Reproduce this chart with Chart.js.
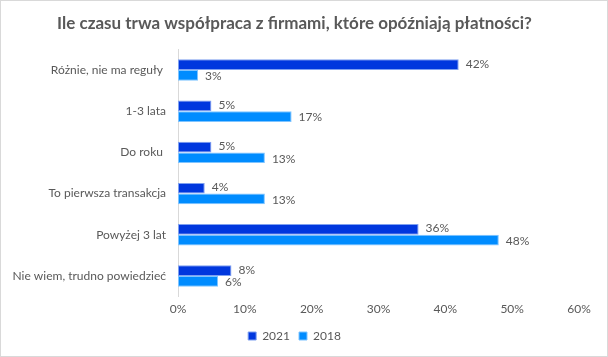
<!DOCTYPE html>
<html>
<head>
<meta charset="utf-8">
<script src="https://cdn.jsdelivr.net/npm/chart.js@4/dist/chart.umd.min.js"></script>
<style>
html,body{margin:0;padding:0;background:#fff;}
canvas{display:block;}
</style>
</head>
<body>
<canvas id="c" width="608" height="357"></canvas>
<script>
const titleText = "Ile czasu trwa współpraca z firmami, które opóźniają płatności?";
const categories = ["Różnie, nie ma reguły ", "1-3 lata", "Do roku ", "To pierwsza transakcja", "Powyżej 3 lat", "Nie wiem, trudno powiedzieć"];
const seriesNames = ["2021", "2018"];
const values2021 = [42, 5, 5, 4, 36, 8];
const values2018 = [3, 17, 13, 13, 48, 6];
const xTicks = [0, 10, 20, 30, 40, 50, 60];

const FONT = "Lato, 'Open Sans', sans-serif";
const GREY = "#595959";

const frame = {
  id: 'frame',
  beforeDraw(chart) {
    const ctx = chart.ctx;
    ctx.save();
    ctx.fillStyle = '#fff';
    ctx.fillRect(0, 0, chart.width, chart.height);
    ctx.strokeStyle = '#d9d9d9';
    ctx.lineWidth = 1;
    ctx.strokeRect(0.5, 0.5, chart.width - 1, chart.height - 1);
    ctx.restore();
  }
};

const labels = {
  id: 'labels',
  afterDatasetsDraw(chart) {
    const ctx = chart.ctx;
    ctx.save();
    ctx.font = "12px " + FONT;
    ctx.fillStyle = GREY;
    ctx.textBaseline = 'middle';
    ctx.textAlign = 'left';
    chart.data.datasets.forEach((ds, di) => {
      const meta = chart.getDatasetMeta(di);
      meta.data.forEach((bar, i) => {
        const dy = di === 0 ? -1 : 1;
        ctx.fillText(ds.data[i] + '%', bar.x + 7, bar.y + dy);
      });
    });
    ctx.restore();
  }
};

new Chart(document.getElementById('c'), {
  type: 'bar',
  data: {
    labels: categories,
    datasets: [
      { label: seriesNames[0], data: values2021, backgroundColor: '#0037de', borderColor: '#7fa0f0', borderWidth: 1, borderSkipped: false },
      { label: seriesNames[1], data: values2018, backgroundColor: '#008cff', borderColor: '#7fc4ff', borderWidth: 1, borderSkipped: false }
    ]
  },
  options: {
    indexAxis: 'y',
    responsive: false,
    animation: false,
    layout: { padding: { left: 10, right: 29, top: 0, bottom: 5 } },
    datasets: { bar: { categoryPercentage: 0.52, barPercentage: 1.0 } },
    scales: {
      x: {
        min: 0, max: 60,
        afterBuildTicks(scale) { scale.ticks = xTicks.map(v => ({ value: v })); },
        grid: { display: false, drawTicks: false },
        border: { display: false },
        ticks: { color: GREY, font: { size: 12, family: FONT }, padding: 5, callback: v => v + '%' }
      },
      y: {
        grid: { display: false, drawTicks: false },
        border: { display: true, color: '#d9d9d9' },
        ticks: { color: GREY, font: { size: 12, family: FONT }, padding: 12 },
        afterFit(scale) { scale.width = 168; }
      }
    },
    plugins: {
      title: {
        display: true, text: titleText, color: GREY,
        font: { size: 17, weight: 'bold', family: FONT },
        padding: { top: 13, bottom: 16 }
      },
      legend: {
        position: 'bottom',
        labels: { color: GREY, font: { size: 12, family: FONT }, boxWidth: 8, boxHeight: 8, padding: 9 }
      },
      tooltip: { enabled: false }
    }
  },
  plugins: [frame, labels]
});
</script>
</body>
</html>
